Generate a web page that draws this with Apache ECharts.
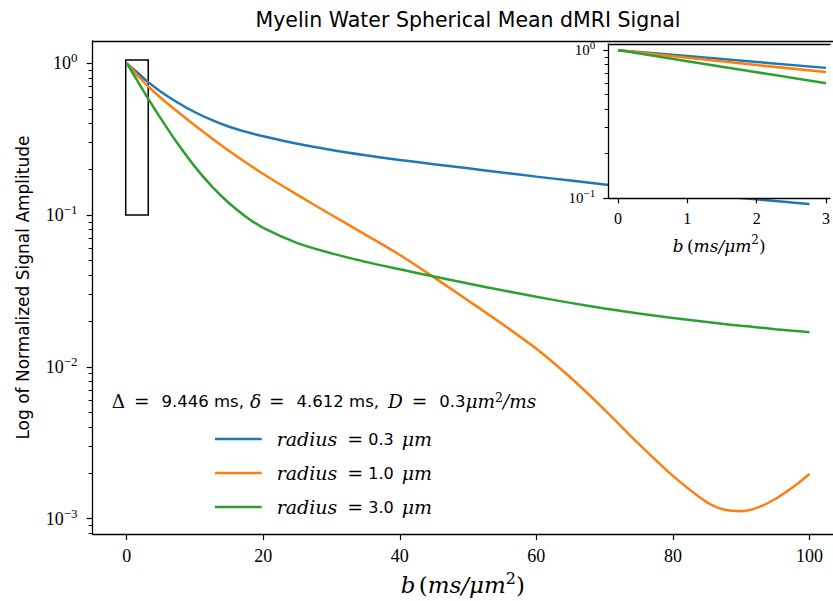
<!DOCTYPE html>
<html><head><meta charset="utf-8">
<script src="https://cdn.jsdelivr.net/npm/echarts@6/dist/echarts.min.js"></script>
<style>html,body{margin:0;padding:0;background:#fff}#c{width:833px;height:601px}</style>
</head><body><div id="c"></div>
<script>
// ---- data ----
const bValues = [0,1,2,3,5,7.5,10,12.5,15,17.5,20,25,30,35,40,45,50,55,60,65,70,75,80,85,87.5,90,92.5,95,97.5,100];
const radius03 = [1.0,0.912,0.832,0.759,0.649,0.549,0.475,0.421,0.381,0.3525,0.330,0.2948,0.2682,0.2474,0.2304,0.2160,0.2030,0.1903,0.1789,0.1685,0.1590,0.1505,0.1427,0.1357,0.1324,0.1293,0.1263,0.1235,0.1208,0.1182];
const radius10 = [1.0,0.8872,0.7925,0.7129,0.5902,0.4770,0.3890,0.3192,0.2638,0.2208,0.1862,0.1357,0.1000,0.0740,0.05452,0.03882,0.02732,0.01912,0.01315,0.008492,0.005207,0.003101,0.001912,0.001278,0.001146,0.001119,0.001186,0.001346,0.001600,0.001968];
const radius30 = [1.0,0.8424,0.7096,0.5977,0.4309,0.2931,0.2075,0.1538,0.1194,0.09705,0.08212,0.06523,0.05585,0.04909,0.04385,0.03930,0.03535,0.03192,0.02891,0.02636,0.02424,0.02246,0.02096,0.01970,0.01914,0.01862,0.01816,0.01768,0.01728,0.01689];
const seriesNames = ['radius = 0.3 μm','radius = 1.0 μm','radius = 3.0 μm'];
const radiusLabels = ['0.3','1.0','3.0'];
const insetCount = 4; // inset shows b = 0..3
const xTicks = [0,20,40,60,80,100];
const yTicks = [0.001,0.01,0.1,1];
const yMinorTicks = [0.0008,0.0009,0.002,0.003,0.004,0.005,0.006,0.007,0.008,0.009,0.02,0.03,0.04,0.05,0.06,0.07,0.08,0.09,0.2,0.3,0.4,0.5,0.6,0.7,0.8,0.9];
const insetXTicks = [0,1,2,3];
const insetYTicks = [0.1,1];
const insetYMinorTicks = [0.2,0.3,0.4,0.5,0.6,0.7,0.8,0.9];
const zoomRectB = [-0.15,3.15];
const zoomRectS = [0.1,1.05];
const titleText = 'Myelin Water Spherical Mean dMRI Signal';
const yName = 'Log of Normalized Signal Amplitude';
// visible axis ranges (the figure is cropped on the right)
const mainXRange = [-5, 103.45];
const mainYRange = [0.00079, 1.4];
const insetXRange = [-0.14, 3.058];
const insetYRange = [0.1, 1.1];

// ---- styling ----
const NUM = 'Liberation Serif';
const MATH = 'DejaVu Serif';
const SANS = 'DejaVu Sans';
const colors = ['#1f77b4','#ff7f0e','#2ca02c'];
const supLabel = v => { const e = Math.round(Math.log10(v)); return '{b|10}{s|' + (e < 0 ? '\u2212' + (-e) : e) + '}'; };
const tickRich = fs => ({
  b: {fontFamily: NUM, fontSize: fs, lineHeight: fs + 6, color: '#000'},
  s: {fontFamily: NUM, fontSize: Math.round(fs * 0.72), lineHeight: Math.round(fs * 0.72) + 2, verticalAlign: 'top', color: '#000'}
});
const nameRich = fs => ({
  i: {fontFamily: MATH, fontStyle: 'italic', fontSize: fs, lineHeight: fs + 6, color: '#000'},
  d: {fontFamily: MATH, fontSize: fs, lineHeight: fs + 6, color: '#000'},
  s: {fontFamily: MATH, fontSize: Math.round(fs * 0.68), lineHeight: Math.round(fs * 0.68) + 2, verticalAlign: 'top', color: '#000'}
});
const bName = '{i|b} {d|(}{i|ms/μm}{s|2}{d|)}';

const chart = echarts.init(document.getElementById('c'), null, {renderer: 'svg', width: 833, height: 601});

const pairs = (vals, n) => bValues.slice(0, n).map((b, i) => [b, vals[i]]);
const allVals = [radius03, radius10, radius30];

const series = [];
allVals.forEach((vals, k) => {
  const s = {
    type: 'line', name: seriesNames[k], xAxisIndex: 0, yAxisIndex: 0,
    data: pairs(vals, bValues.length), showSymbol: false, symbol: 'none',
    smooth: 0.3, lineStyle: {color: colors[k], width: 2.5}, itemStyle: {color: colors[k]},
    z: 2, silent: true
  };
  if (k === 0) {
    s.markArea = {
      silent: true,
      itemStyle: {color: 'rgba(0,0,0,0)', borderColor: '#000', borderWidth: 1.5},
      data: [[{coord: [zoomRectB[0], zoomRectS[0]]}, {coord: [zoomRectB[1], zoomRectS[1]]}]]
    };
  }
  series.push(s);
});
allVals.forEach((vals, k) => {
  series.push({
    type: 'line', name: seriesNames[k], xAxisIndex: 1, yAxisIndex: 2,
    data: pairs(vals, insetCount), showSymbol: false, symbol: 'none',
    lineStyle: {color: colors[k], width: 2.5}, itemStyle: {color: colors[k]},
    z: 11, silent: true
  });
});

const tickStyle = {color: '#000', width: 1.2};
const spine = {show: true, onZero: false, lineStyle: {color: '#000', width: 1.3}};
const topSpine = (gi, range, z) => ({
  type: 'value', gridIndex: gi, position: 'top', min: range[0], max: range[1], z: z,
  axisLine: spine, axisTick: {show: false}, axisLabel: {show: false}, splitLine: {show: false}
});

chart.setOption({
  animation: false,
  backgroundColor: '#fff',
  grid: [
    {left: 92.6, top: 41, right: 0, height: 497, show: false, containLabel: false},
    {left: 608.3, top: 44, right: 0, height: 154.3, show: true, borderWidth: 0, borderColor: 'rgba(0,0,0,0)', backgroundColor: '#fff', containLabel: false, z: 10}
  ],
  xAxis: [
    {type: 'value', gridIndex: 0, min: mainXRange[0], max: mainXRange[1],
     axisLine: spine,
     axisTick: {show: true, length: 6, lineStyle: tickStyle, customValues: xTicks},
     axisLabel: {show: true, margin: 13, customValues: xTicks, fontFamily: NUM, fontSize: 18, color: '#000'},
     splitLine: {show: false},
     name: bName, nameLocation: 'middle', nameGap: 29,
     nameTextStyle: {rich: nameRich(23)}},
    {type: 'value', gridIndex: 1, min: insetXRange[0], max: insetXRange[1], z: 12,
     axisLine: spine,
     axisTick: {show: true, length: 5, lineStyle: tickStyle, customValues: insetXTicks},
     axisLabel: {show: true, margin: 12, customValues: insetXTicks, fontFamily: NUM, fontSize: 16, color: '#000'},
     splitLine: {show: false},
     name: bName, nameLocation: 'middle', nameGap: 36,
     nameTextStyle: {rich: nameRich(17)}},
    topSpine(0, mainXRange, 0),
    topSpine(1, insetXRange, 12)
  ],
  yAxis: [
    {type: 'log', logBase: 10, gridIndex: 0, min: mainYRange[0], max: mainYRange[1], position: 'left',
     axisLine: spine,
     axisTick: {show: true, length: 6, lineStyle: tickStyle, customValues: yTicks},
     axisLabel: {show: true, margin: 15, customValues: yTicks, formatter: supLabel, rich: tickRich(18)},
     splitLine: {show: false},
     name: yName, nameLocation: 'middle', nameGap: 61, nameRotate: 90,
     nameTextStyle: {fontFamily: SANS, fontSize: 17, color: '#000'}},
    {type: 'log', logBase: 10, gridIndex: 0, min: mainYRange[0], max: mainYRange[1], position: 'left', offset: 0,
     axisLine: {show: false, onZero: false},
     axisTick: {show: true, length: 4, lineStyle: {color: '#000', width: 1}, customValues: yMinorTicks},
     axisLabel: {show: false}, splitLine: {show: false}},
    {type: 'log', logBase: 10, gridIndex: 1, min: insetYRange[0], max: insetYRange[1], position: 'left', z: 12,
     axisLine: spine,
     axisTick: {show: true, length: 5, lineStyle: tickStyle, customValues: insetYTicks},
     axisLabel: {show: true, margin: 13, customValues: insetYTicks, formatter: supLabel, rich: tickRich(15)},
     splitLine: {show: false}},
    {type: 'log', logBase: 10, gridIndex: 1, min: insetYRange[0], max: insetYRange[1], position: 'left', offset: 0, z: 12,
     axisLine: {show: false, onZero: false},
     axisTick: {show: true, length: 3.5, lineStyle: {color: '#000', width: 1}, customValues: insetYMinorTicks},
     axisLabel: {show: false}, splitLine: {show: false}}
  ],
  legend: {
    show: true, orient: 'vertical', left: 215, top: 429.5, padding: 0,
    data: seriesNames, icon: 'rect', itemWidth: 46.7, itemHeight: 2.6, itemGap: 15,
    selectedMode: false,
    formatter: name => '{g|}{i|radius}{g10|}{d|=}{g5|}{n|' + radiusLabels[seriesNames.indexOf(name)] + '}{g8|}{i|μm}',
    textStyle: {rich: {
      g: {width: 10, lineHeight: 20},
      g10: {width: 10, lineHeight: 20},
      g5: {width: 5, lineHeight: 20},
      g8: {width: 8, lineHeight: 20},
      i: {fontFamily: MATH, fontStyle: 'italic', fontSize: 19, lineHeight: 20, color: '#000'},
      d: {fontFamily: MATH, fontSize: 19, lineHeight: 20, color: '#000'},
      n: {fontFamily: SANS, fontSize: 16, lineHeight: 20, color: '#000'}
    }}
  },
  graphic: [
    {type: 'text', x: 468, y: 20, z: 20, silent: true,
     style: {text: titleText, fontFamily: SANS, fontSize: 20.5, fill: '#000', align: 'center', verticalAlign: 'middle'}},
    {type: 'text', x: 111.7, y: 401.5, z: 20, silent: true,
     style: {text: '{d|Δ}{g8|}{d|=}{g11|}{n|9.446 ms,}{g5|}{i|δ}{g7|}{d|=}{g11|}{n|4.612 ms,}{g8|}{i|D}{g8|}{d|=}{g11|}{n|0.3}{i|μm}{s|2}{i|/ms}',
       align: 'left', verticalAlign: 'middle',
       rich: {
         d: {fontFamily: MATH, fontSize: 18.5, lineHeight: 22, fill: '#000'},
         i: {fontFamily: MATH, fontStyle: 'italic', fontSize: 18.5, lineHeight: 22, fill: '#000'},
         n: {fontFamily: SANS, fontSize: 16.5, lineHeight: 22, fill: '#000'},
         s: {fontFamily: MATH, fontSize: 12.5, lineHeight: 13, verticalAlign: 'top', fill: '#000'},
         g5: {width: 6, lineHeight: 22}, g7: {width: 8, lineHeight: 22}, g8: {width: 9, lineHeight: 22}, g11: {width: 12, lineHeight: 22}
       }}}
  ],
  series: series
});
</script>
</body></html>
